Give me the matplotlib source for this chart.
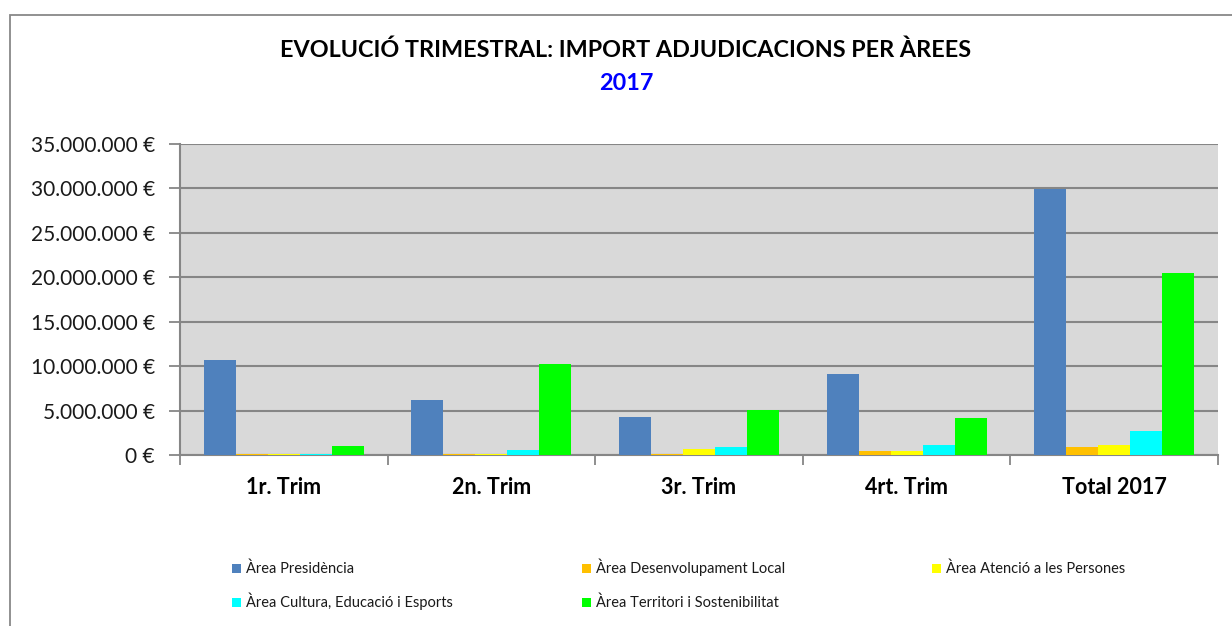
import matplotlib
matplotlib.use("Agg")
import matplotlib.pyplot as plt
import numpy as np
from matplotlib.ticker import FuncFormatter, FixedLocator
from matplotlib.patches import Rectangle

plt.rcParams['font.family'] = ['Lato', 'DejaVu Sans']

categories = ["1r. Trim", "2n. Trim", "3r. Trim", "4rt. Trim", "Total 2017"]
series_names = ["Àrea Presidència", "Àrea Desenvolupament Local", "Àrea Atenció a les Persones",
                "Àrea Cultura, Educació i Esports", "Àrea Territori i Sostenibilitat"]
presidencia = [10700000, 6200000, 4300000, 9100000, 29900000]
desenvolupament = [150000, 120000, 120000, 450000, 900000]
atencio = [100000, 80000, 680000, 450000, 1120000]
cultura = [100000, 560000, 900000, 1120000, 2700000]
territori = [1000000, 10250000, 5050000, 4150000, 20500000]
colors = ["#4F81BD", "#FFC000", "#FFFF00", "#00FFFF", "#00FF00"]
title_main = "EVOLUCIÓ TRIMESTRAL: IMPORT ADJUDICACIONS PER ÀREES"
title_year = "2017"

W, H = 1232, 626
fig = plt.figure(figsize=(W/100, H/100), dpi=100)
fig.patch.set_facecolor("white")

# outer frame (only top and left visible)
fig.patches.append(Rectangle((10/W, -0.2), 1.5, (H-15)/H + 0.2, transform=fig.transFigure,
                             fill=False, edgecolor="#888888", linewidth=1.3))

ax = fig.add_axes([180/W, (H-455)/H, (1218-180)/W, (455-144)/H])
ax.set_facecolor("#D9D9D9")

data = [presidencia, desenvolupament, atencio, cultura, territori]
x = np.arange(len(categories))
bw = 32/207.6
for i, (vals, c) in enumerate(zip(data, colors)):
    ax.bar(x + (i - 2) * bw, vals, width=bw, color=c, zorder=3, linewidth=0)

ax.set_xlim(-0.5, len(categories) - 0.5)
ax.set_ylim(0, 35000000)
ax.set_yticks(np.arange(0, 35000001, 5000000))
ax.yaxis.set_major_formatter(FuncFormatter(lambda v, p: "{:,.0f} €".format(v).replace(",", ".")))
ax.grid(axis="y", color="#868686", linewidth=1.5, zorder=1)
ax.set_axisbelow(True)

ax.set_xticks(x)
ax.set_xticklabels(categories, fontsize=15.5, fontweight="bold", color="black")
ax.xaxis.set_minor_locator(FixedLocator(np.arange(-0.5, len(categories), 1.0)))
ax.tick_params(axis="x", which="major", length=0, pad=16)
ax.tick_params(axis="x", which="minor", length=7, color="#868686", width=1.3, direction="out")
ax.tick_params(axis="y", length=8, color="#868686", width=1.3, pad=10, labelsize=15, labelcolor="#1a1a1a")

for s in ["top", "right"]:
    ax.spines[s].set_visible(False)
for s in ["left", "bottom"]:
    ax.spines[s].set_color("#868686")
    ax.spines[s].set_linewidth(1.5)

fig.text(0.5 * (280 + 972) / W, 1 - 50/H, title_main, ha="center", va="center",
         fontsize=16.8, fontweight="bold", color="black")
fig.text(0.5 * (280 + 972) / W, 1 - 84/H, title_year, ha="center", va="center",
         fontsize=16.8, fontweight="bold", color="#0000FF")

# legend entries (row-wise order): marker square + label on a shared baseline
marker_x = [232, 582, 932, 232, 582]
row_y = [568, 568, 568, 602, 602]
for i in range(len(series_names)):
    mx, my = marker_x[i], row_y[i]
    fig.patches.append(Rectangle(((mx) / W, 1 - (my + 4.5) / H), 9 / W, 9 / H,
                                 transform=fig.transFigure, facecolor=colors[i],
                                 edgecolor="none"))
    fig.text((mx + 14) / W, 1 - (my + 5) / H, series_names[i], ha="left", va="baseline",
             fontsize=10.5, color="#1a1a1a")

fig.savefig("out.png", dpi=100)
